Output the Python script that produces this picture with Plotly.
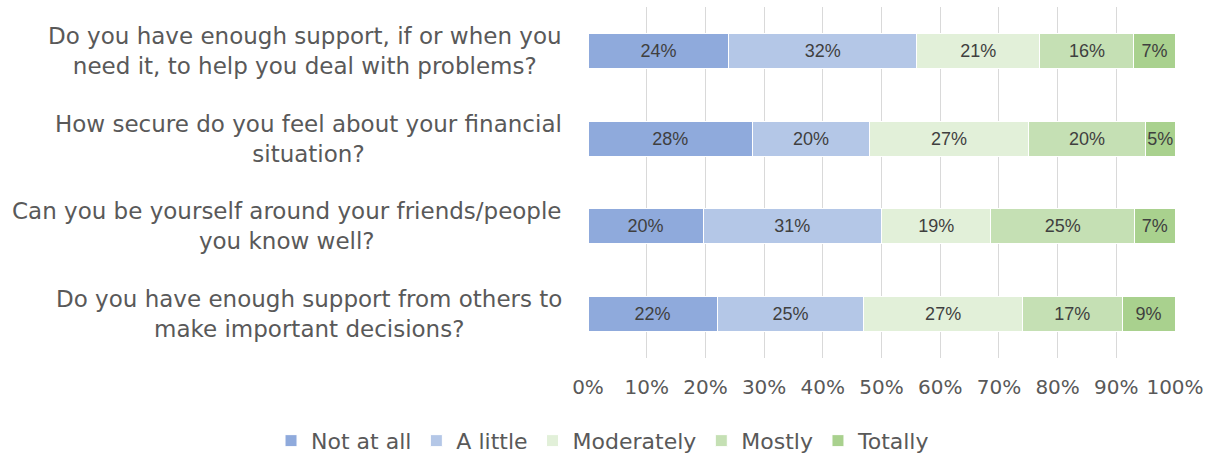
import plotly.graph_objects as go

questions = [
    "Do you have enough support, if or when you<br>need it, to help you deal with problems?",
    "How secure do you feel about your financial<br>situation?",
    "Can you be yourself around your friends/people<br>you know well?",
    "Do you have enough support from others to<br>make important decisions?",
]
responses = ["Not at all", "A little", "Moderately", "Mostly", "Totally"]
values = {
    "Not at all": [24, 28, 20, 22],
    "A little":   [32, 20, 31, 25],
    "Moderately": [21, 27, 19, 27],
    "Mostly":     [16, 20, 25, 17],
    "Totally":    [7, 5, 7, 9],
}
x_ticks = [0, 10, 20, 30, 40, 50, 60, 70, 80, 90, 100]

colors = {
    "Not at all": "#8FAADC",
    "A little": "#B4C7E7",
    "Moderately": "#E2F0D9",
    "Mostly": "#C5E0B4",
    "Totally": "#A9D18E",
}

label_font = "DejaVu Sans"
fig = go.Figure()
for r in responses:
    fig.add_trace(go.Bar(
        orientation="h",
        y=questions,
        x=values[r],
        name=r,
        marker=dict(color=colors[r], line=dict(color="white", width=1)),
        text=[f"{v}%" for v in values[r]],
        texttemplate="%{text}",
        textposition="inside",
        insidetextanchor="middle",
        textangle=0,
        textfont=dict(family="Liberation Sans", size=18, color="#3F3F3F"),
    ))

for q in questions:
    fig.add_annotation(
        x=0, xref="paper", y=q, yref="y", text=q, showarrow=False,
        xanchor="right", xshift=-24, align="center",
        font=dict(family=label_font, size=23, color="#595959"),
    )

fig.update_layout(
    width=1211, height=457,
    margin=dict(l=588, r=36, t=7, b=99, autoexpand=False),
    barmode="stack", barnorm="percent", bargap=0.6,
    plot_bgcolor="white", paper_bgcolor="white",
    uniformtext=dict(minsize=18, mode="show"),
    showlegend=True,
    legend=dict(
        orientation="h", xref="paper", x=-0.54, xanchor="left",
        yref="paper", y=-0.236, yanchor="middle",
        font=dict(family=label_font, size=22, color="#595959"),
        traceorder="normal", itemwidth=30,
    ),
)
fig.update_xaxes(
    range=[0, 100], tickvals=x_ticks, ticktext=[f"{t}%" for t in x_ticks],
    showgrid=True, gridcolor="#D9D9D9", gridwidth=1,
    zeroline=False, showline=False, ticks="",
    tickfont=dict(family=label_font, size=20, color="#595959"),
    ticklabelstandoff=15,
)
fig.update_yaxes(
    categoryorder="array", categoryarray=questions, autorange="reversed",
    showticklabels=False, showgrid=False, zeroline=False, showline=False,
)

fig.write_html("out.html")
